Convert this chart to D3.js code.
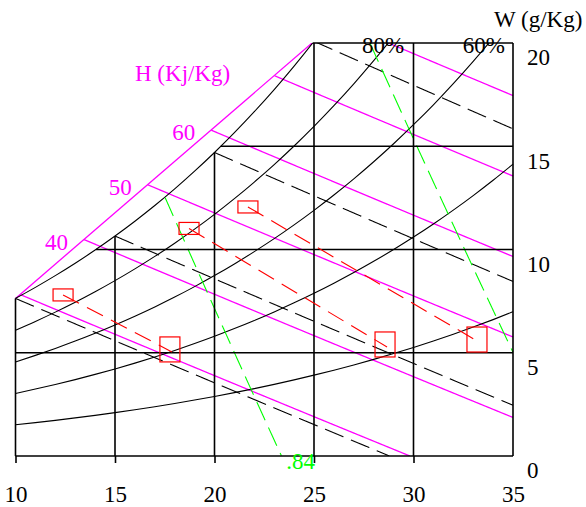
<!DOCTYPE html>
<html>
<head>
<meta charset="utf-8">
<script src="https://cdnjs.cloudflare.com/ajax/libs/d3/7.8.5/d3.min.js"></script>
<style>
body { margin: 0; background: #fff; }
</style>
</head>
<body>
<div id="chart"></div>
<script>
// saturation pressure of water vapour (kPa) by dry bulb temperature (C)
var satTemps = [10, 11, 12, 13, 14, 15, 16, 17, 18, 19, 20, 21, 22,
                23, 24, 25, 26, 27, 28, 29, 30, 31, 32, 33, 34, 35];
var satPress = [1.228, 1.313, 1.403, 1.498, 1.599, 1.706, 1.819, 1.938, 2.064,
                2.198, 2.339, 2.488, 2.645, 2.810, 2.985, 3.169, 3.363, 3.567,
                3.782, 4.008, 4.246, 4.495, 4.758, 5.034, 5.323, 5.627];
var pAtm = 101.325;

var rhLevels = [1, 0.8, 0.6, 0.4, 0.2];
var rhLabels = [0.8, 0.6];
var enthalpyLevels = [30, 40, 50, 60, 70, 80];
var enthalpyLabels = [40, 50, 60];
var wetBulbLevels = [10, 15, 20, 25];
var volumeLevels = [0.84, 0.88];
var volumeLabels = [0.84];

var tempTicks = [10, 15, 20, 25, 30, 35];
var humTicks = [0, 5, 10, 15, 20];

// process lines: start (small box) -> end (big box), [T, W]
var processStart = [[12.39, 7.80], [18.72, 11.02], [21.68, 12.06]];
var processEnd = [[17.86, 5.04], [28.67, 5.28], [33.29, 5.52]];

var width = 586, height = 507;
var tMin = 10, tMax = 35, wMax = 20;
var serif = "'Liberation Serif', 'Times New Roman', 'DejaVu Serif', serif";

var x = d3.scaleLinear().domain([tMin, tMax]).range([15.5, 513]);
var y = d3.scaleLinear().domain([0, wMax]).range([456, 43]);

var psat = d3.scaleLinear().domain(satTemps).range(satPress);
var tFromPsat = d3.scaleLinear().domain(satPress).range(satTemps);

function wFromPv(pv) { return 622 * pv / (pAtm - pv); }
function pvFromW(w) { return w * pAtm / (622 + w); }
function wSat(t) { return wFromPv(psat(t)); }

function wEnthalpy(h, t) { return (h - 1.006 * t) / (2.501 + 0.00186 * t); }
function wWetBulb(tw, t) {
    return ((2501 - 2.326 * tw) * wSat(tw) / 1000 - 1.006 * (t - tw)) /
        (2501 + 1.86 * t - 4.186 * tw) * 1000;
}
function wVolume(v, t) { return ((v * pAtm / 0.287042) / (t + 273.15) - 1) / 1.6078 * 1000; }

// straight enthalpy scale line between saturation at 10 and 25
var chord = [[10, wSat(10)], [25, wSat(25)]];
function chordTop(t) {
    if (t > 25) return wMax;
    return Math.min(wMax, chord[0][1] + (t - 10) * (chord[1][1] - chord[0][1]) / 15);
}
function satTop(t) { return Math.min(wMax, wSat(t)); }

function trace(fn, top, tStart) {
    var pts = [];
    for (var t = tStart; t <= tMax + 1e-9; t += 0.02) {
        var w = fn(t);
        if (w >= 0 && w <= top(t) + 1e-6) pts.push([t, w]);
    }
    return pts;
}

var svg = d3.select("#chart").append("svg")
    .attr("width", width)
    .attr("height", height)
    .attr("font-family", serif)
    .attr("font-size", 23);

svg.append("defs").append("clipPath")
    .attr("id", "plot")
    .append("rect")
    .attr("x", x(tMin) - 2).attr("y", y(wMax))
    .attr("width", x(tMax) - x(tMin) + 4).attr("height", y(0) - y(wMax));

var line = d3.line()
    .x(function(d) { return x(d[0]); })
    .y(function(d) { return y(d[1]); });

var plot = svg.append("g").attr("clip-path", "url(#plot)");

// enthalpy lines (magenta)
var hLines = enthalpyLevels.map(function(h) {
    return { h: h, pts: trace(function(t) { return wEnthalpy(h, t); }, chordTop, tMin) };
});

plot.append("path")
    .datum(chord)
    .attr("fill", "none")
    .attr("stroke", "#ff00ff")
    .attr("stroke-width", 1.3)
    .attr("d", line);

plot.selectAll(".hline")
    .data(hLines)
    .enter().append("path")
    .attr("class", "hline")
    .attr("fill", "none")
    .attr("stroke", "#ff00ff")
    .attr("stroke-width", 1.3)
    .attr("d", function(d) { return line(d.pts); });

// relative humidity curves
plot.selectAll(".rh")
    .data(rhLevels)
    .enter().append("path")
    .attr("class", "rh")
    .attr("fill", "none")
    .attr("stroke", "#000")
    .attr("stroke-width", 1.1)
    .attr("d", function(rh) {
        return line.curve(d3.curveMonotoneX)(satTemps.map(function(t, i) {
            return [t, wFromPv(rh * satPress[i])];
        }));
    });
line.curve(d3.curveLinear);

// wet bulb lines
plot.selectAll(".wb")
    .data(wetBulbLevels)
    .enter().append("path")
    .attr("class", "wb")
    .attr("fill", "none")
    .attr("stroke", "#000")
    .attr("stroke-width", 1.1)
    .attr("stroke-dasharray", "20,8")
    .attr("d", function(tw) {
        return line(trace(function(t) { return wWetBulb(tw, t); }, function() { return 99; }, tw));
    });

// specific volume lines (green)
var vLines = volumeLevels.map(function(v) {
    return { v: v, pts: trace(function(t) { return wVolume(v, t); }, satTop, tMin) };
});
plot.selectAll(".vol")
    .data(vLines)
    .enter().append("path")
    .attr("class", "vol")
    .attr("fill", "none")
    .attr("stroke", "#00ff00")
    .attr("stroke-width", 1.1)
    .attr("stroke-dasharray", "20,8")
    .attr("d", function(d) { return line(d.pts); });

// grid
var grid = svg.append("g").attr("stroke", "#000").attr("stroke-width", 1.6);
grid.selectAll(".vgrid")
    .data(tempTicks)
    .enter().append("line")
    .attr("x1", function(d) { return x(d); })
    .attr("x2", function(d) { return x(d); })
    .attr("y1", y(0))
    .attr("y2", function(d) { return y(satTop(d)); });
grid.selectAll(".hgrid")
    .data(humTicks)
    .enter().append("line")
    .attr("y1", function(d) { return y(d); })
    .attr("y2", function(d) { return y(d); })
    .attr("x1", function(d) { return x(Math.max(tMin, tFromPsat(pvFromW(d)))); })
    .attr("x2", x(tMax));

// process lines (red)
var procs = processStart.map(function(s, i) { return { s: s, e: processEnd[i] }; });
svg.selectAll(".proc")
    .data(procs)
    .enter().append("path")
    .attr("class", "proc")
    .attr("fill", "none")
    .attr("stroke", "#ff0000")
    .attr("stroke-width", 1.1)
    .attr("stroke-dasharray", "18,9")
    .attr("d", function(d) { return line([d.s, d.e]); });

svg.selectAll(".boxS")
    .data(processStart)
    .enter().append("rect")
    .attr("fill", "none")
    .attr("stroke", "#ff0000")
    .attr("stroke-width", 1.2)
    .attr("x", function(d) { return x(d[0]) - 10; })
    .attr("y", function(d) { return y(d[1]) - 6; })
    .attr("width", 20)
    .attr("height", 12);

svg.selectAll(".boxE")
    .data(processEnd)
    .enter().append("rect")
    .attr("fill", "none")
    .attr("stroke", "#ff0000")
    .attr("stroke-width", 1.2)
    .attr("x", function(d) { return x(d[0]) - 12; })
    .attr("y", function(d) { return y(d[1]) - 15; })
    .attr("width", 20)
    .attr("height", 25);

// axes
var xAxis = svg.append("g")
    .attr("transform", "translate(0," + y(0) + ")")
    .call(d3.axisBottom(x).tickValues(tempTicks).tickSize(7).tickPadding(23));
xAxis.attr("font-family", serif).attr("font-size", 23);
xAxis.select(".domain").remove();
xAxis.selectAll(".tick line").attr("stroke-width", 1.6);
xAxis.selectAll(".tick").filter(function(d) { return d === tMax; }).select("line").remove();
xAxis.selectAll("text").attr("fill", "#000");

var yAxis = svg.append("g")
    .attr("transform", "translate(" + x(tMax) + ",0)")
    .call(d3.axisRight(y).tickValues(humTicks).tickSize(0).tickPadding(14));
yAxis.attr("font-family", serif).attr("font-size", 23);
yAxis.select(".domain").remove();
yAxis.selectAll("text").attr("fill", "#000").attr("dy", "0.95em");

// labels
svg.append("text")
    .attr("x", 494).attr("y", 27)
    .text("W (g/Kg)");

svg.append("text")
    .attr("x", 135).attr("y", 81)
    .attr("fill", "#ff00ff")
    .text("H (Kj/Kg)");

svg.selectAll(".hlab")
    .data(hLines.filter(function(d) { return enthalpyLabels.indexOf(d.h) >= 0; }))
    .enter().append("text")
    .attr("fill", "#ff00ff")
    .attr("text-anchor", "end")
    .attr("x", function(d) { return x(d.pts[0][0]) - 16; })
    .attr("y", function(d) { return y(d.pts[0][1]) + 10; })
    .text(function(d) { return d.h; });

svg.selectAll(".rhlab")
    .data(rhLabels)
    .enter().append("text")
    .attr("text-anchor", "middle")
    .attr("x", function(rh) { return x(tFromPsat(pvFromW(wMax) / rh)) - 5; })
    .attr("y", y(wMax) + 10)
    .text(function(rh) { return Math.round(rh * 100) + "%"; });

svg.selectAll(".vlab")
    .data(vLines.filter(function(d) { return volumeLabels.indexOf(d.v) >= 0; }))
    .enter().append("text")
    .attr("fill", "#00ff00")
    .attr("x", function(d) { return x(d.pts[d.pts.length - 1][0]) + 5; })
    .attr("y", y(0) + 13)
    .text(function(d) { return String(d.v).replace(/^0/, ""); });
</script>
</body>
</html>
